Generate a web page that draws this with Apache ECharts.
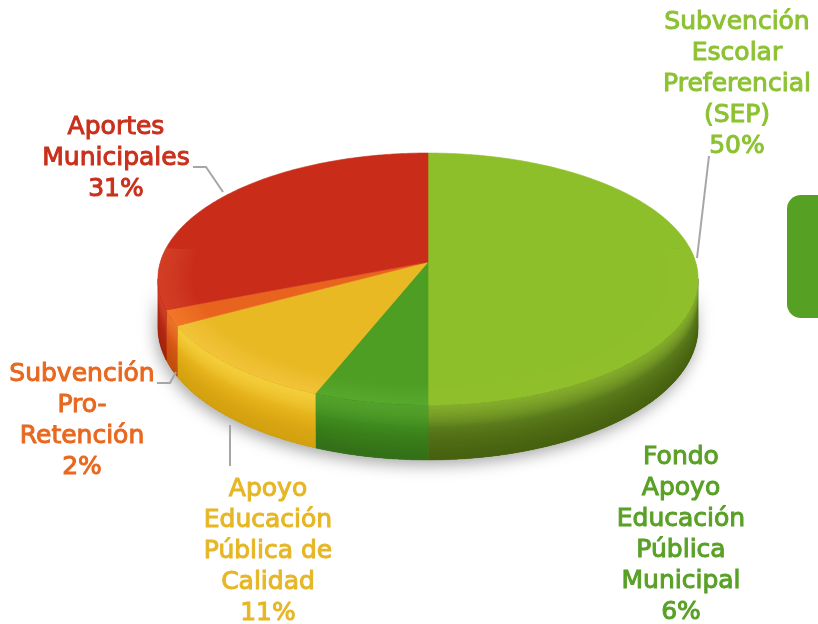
<!DOCTYPE html>
<html>
<head>
<meta charset="utf-8">
<script src="https://cdn.jsdelivr.net/npm/echarts@6/dist/echarts.min.js"></script>
<style>
  html, body { margin: 0; padding: 0; background: #ffffff; }
  #chart { width: 818px; height: 624px; }
</style>
</head>
<body>
<div id="chart"></div>
<script>
// Funding sources, in percent, clockwise from 12 o'clock
const categories = [
  'Subvención Escolar Preferencial (SEP)',
  'Fondo Apoyo Educación Pública Municipal',
  'Apoyo Educación Pública de Calidad',
  'Subvención Pro-Retención',
  'Aportes Municipales'
];
const values = [50, 6, 11, 2, 31];

// How each category name is broken over lines in its label
const labelLines = [
  ['Subvención', 'Escolar', 'Preferencial', '(SEP)'],
  ['Fondo', 'Apoyo', 'Educación', 'Pública', 'Municipal'],
  ['Apoyo', 'Educación', 'Pública de', 'Calidad'],
  ['Subvención', 'Pro-', 'Retención'],
  ['Aportes', 'Municipales']
];

// Styling per slice: top face, label, and side (highlight, body, shade)
const topColors   = ['#8dbf2a', '#4f9e24', '#e8b922', '#e8641e', '#c92d1a'];
const labelColors = ['#8cc232', '#58a026', '#e6b624', '#e8681f', '#c9301c'];
const sideColors = [
  ['#9cc83c', '#5b7a1c', '#435e12'],
  ['#66b434', '#3e8a1e', '#2f6c14'],
  ['#fada50', '#e6b41c', '#c99812'],
  ['#f88a3a', '#dc5a18', '#b84810'],
  ['#e05034', '#bb2b18', '#982010']
];

// Label anchors (centre of text block) and leader line paths
const labelPos = [[737, 84], [681, 535], [268, 551], [82, 421], [116, 158]];
const leaders = [
  [[709, 156], [697, 258]],
  null,
  [[230, 425], [230, 466]],
  [[157, 383], [170, 383], [176, 372]],
  [[193, 167], [206, 167], [223, 192]]
];

// Projection of the tilted disc
const CX = 428, CY = 262, RX = 267.6, RY = 123.7, K = 0.135, DEPTH = 47.5;
const TOTAL = values.reduce((s, v) => s + v, 0);
const starts = [];
values.reduce((acc, v, i) => { starts[i] = acc; return acc + v; }, 0);
const seriesData = values.map((v, i) => [v, starts[i]]);

function pt(t, drop, r) {
  r = r == null ? 1 : r;
  const c = Math.cos(t), s = Math.sin(t), d = 1 + K * r * c;
  return [CX + RX * r * s / d, CY + (-RY * r * c + (drop || 0)) / d];
}
function arc(a0, a1, drop, r) {
  const n = Math.max(2, Math.ceil((a1 - a0) / 0.01));
  const out = [];
  for (let k = 0; k <= n; k++) out.push(pt(a0 + (a1 - a0) * k / n, drop, r));
  return out;
}
// A band between two curves, following the arc from a0 to a1
function band(a0, a1, d0, r0, d1, r1) {
  return arc(a0, a1, d0, r0).concat(arc(a0, a1, d1, r1).reverse());
}
function angles(api) {
  const v = api.value(0), st = api.value(1);
  return [st / TOTAL * Math.PI * 2, (st + v) / TOTAL * Math.PI * 2];
}
function rgba(hex, a) {
  const n = parseInt(hex.slice(1), 16);
  return 'rgba(' + (n >> 16) + ',' + ((n >> 8) & 255) + ',' + (n & 255) + ',' + a + ')';
}
function steps(from, to, n) {
  const out = [];
  for (let k = 0; k < n; k++) out.push(from + (to - from) * k / (n - 1));
  return out;
}
const VIS0 = Math.acos(-K), VIS1 = Math.PI * 2 - Math.acos(-K);

function renderTop(params, api) {
  const i = params.dataIndex;
  const [a0, a1] = angles(api);
  const children = [{
    type: 'polygon',
    shape: { points: [[CX, CY]].concat(arc(a0, a1, 0, 1)) },
    style: { fill: topColors[i], stroke: topColors[i], lineWidth: 0.6 }
  }];
  // rounded rim highlight along the front edge of the top face
  const b0 = Math.max(a0, VIS0 - 0.25), b1 = Math.min(a1, VIS1 + 0.25);
  if (b1 > b0) {
    steps(0.88, 0.99, 10).forEach(function (r) {
      children.push({
        type: 'polygon',
        shape: { points: band(b0, b1, 0, r, 0, 1) },
        style: { fill: rgba(sideColors[i][0], 0.07) }
      });
    });
  }
  const lp = labelPos[i];
  children.push({
    type: 'text',
    style: {
      text: labelLines[i].concat([api.value(0) + '%']).join('\n'),
      x: lp[0], y: lp[1],
      fill: labelColors[i],
      stroke: labelColors[i],
      lineWidth: 1,
      font: '25px "DejaVu Sans"',
      align: 'center',
      verticalAlign: 'middle',
      lineHeight: 31
    }
  });
  if (leaders[i]) {
    children.push({
      type: 'polyline',
      shape: { points: leaders[i] },
      style: { stroke: '#a6a6a6', lineWidth: 2, fill: null }
    });
  }
  return { type: 'group', children: children };
}

function renderSide(params, api) {
  const i = params.dataIndex;
  let [a0, a1] = angles(api);
  a0 = Math.max(a0, VIS0); a1 = Math.min(a1, VIS1);
  const children = [];
  if (a1 <= a0) return { type: 'group', children: children };
  const c = sideColors[i];
  children.push({
    type: 'polygon',
    shape: { points: band(a0, a1, 0, 1, DEPTH, 1) },
    style: { fill: c[1], stroke: c[1], lineWidth: 0.6 }
  });
  // highlight just under the rim
  steps(0.04, 0.4, 12).forEach(function (f) {
    children.push({
      type: 'polygon',
      shape: { points: band(a0, a1, 0, 1, DEPTH * f, 1) },
      style: { fill: rgba(c[0], 0.09) }
    });
  });
  // shading toward the bottom
  steps(0.45, 0.95, 12).forEach(function (f) {
    children.push({
      type: 'polygon',
      shape: { points: band(a0, a1, DEPTH * f, 1, DEPTH, 1) },
      style: { fill: rgba(c[2], 0.08) }
    });
  });
  return { type: 'group', children: children };
}

function renderShadow() {
  return {
    type: 'polygon',
    shape: { points: band(VIS0, VIS1, 0, 1, DEPTH, 1) },
    style: {
      fill: '#6a6a6a',
      shadowColor: 'rgba(0,0,0,0.35)',
      shadowBlur: 16,
      shadowOffsetX: -2,
      shadowOffsetY: 5
    }
  };
}

const chart = echarts.init(document.getElementById('chart'), null, { renderer: 'canvas' });
chart.setOption({
  animation: false,
  backgroundColor: '#ffffff',
  graphic: [{
    type: 'rect',
    shape: { x: 787, y: 195, width: 60, height: 123, r: 14 },
    style: { fill: '#56a024' },
    z: 0
  }],
  series: [
    {
      type: 'custom', name: 'shadow', coordinateSystem: 'none',
      data: [[0]], renderItem: renderShadow, z: 1, silent: true
    },
    {
      type: 'custom', name: 'side', coordinateSystem: 'none',
      data: seriesData, renderItem: renderSide, z: 2, silent: true
    },
    {
      type: 'custom', name: 'top', coordinateSystem: 'none',
      data: seriesData, renderItem: renderTop, z: 3,
      dimensions: ['value', 'start']
    }
  ]
});
</script>
</body>
</html>
